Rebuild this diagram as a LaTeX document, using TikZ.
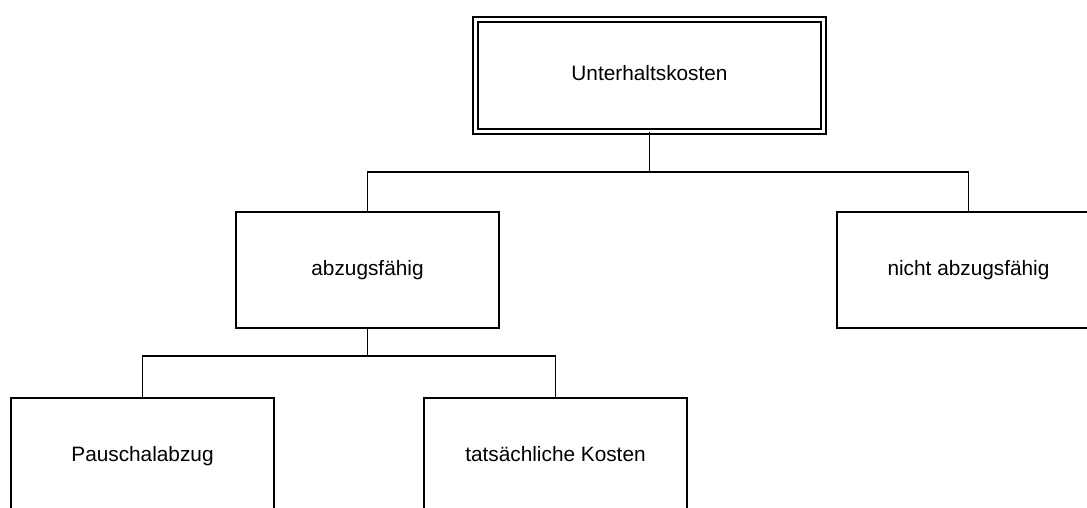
\documentclass[tikz,border=0pt]{standalone}
\usepackage{fontspec}
\setmainfont{Liberation Sans}
\begin{document}
\begin{tikzpicture}[x=1pt,y=-1pt,
  box/.style={draw=black, line width=1.5pt, rectangle, minimum width=263pt, minimum height=116pt, inner sep=0pt, text height=15pt, text depth=4.4pt, font=\fontsize{20.8}{25}\selectfont},
  topbox/.style={box, double, double distance=2.8pt, line width=1.7pt, minimum width=348pt, minimum height=112pt},
  link/.style={draw=black, line width=1.5pt}]
\useasboundingbox (0,0) rectangle (1087,508);
\clip (0,0) rectangle (1087,508);
\node[topbox] (top) at (649.5,75.5) {Unterhaltskosten};
\node[box] (ml) at (367.5,270) {abzugsfähig};
\node[box] (mr) at (968.5,270) {nicht abzugsfähig};
\node[box] (bl) at (142.5,456) {Pauschalabzug};
\node[box] (bm) at (555.5,456) {tatsächliche Kosten};
\coordinate (j1) at (649.5,172);
\coordinate (j2) at (367.5,356);
\draw[link] (top.south) -- (j1);
\draw[link] (ml.north) |- (j1) -| (mr.north);
\draw[link] (ml.south) -- (j2);
\draw[link] (bl.north) |- (j2) -| (bm.north);
\end{tikzpicture}
\end{document}
